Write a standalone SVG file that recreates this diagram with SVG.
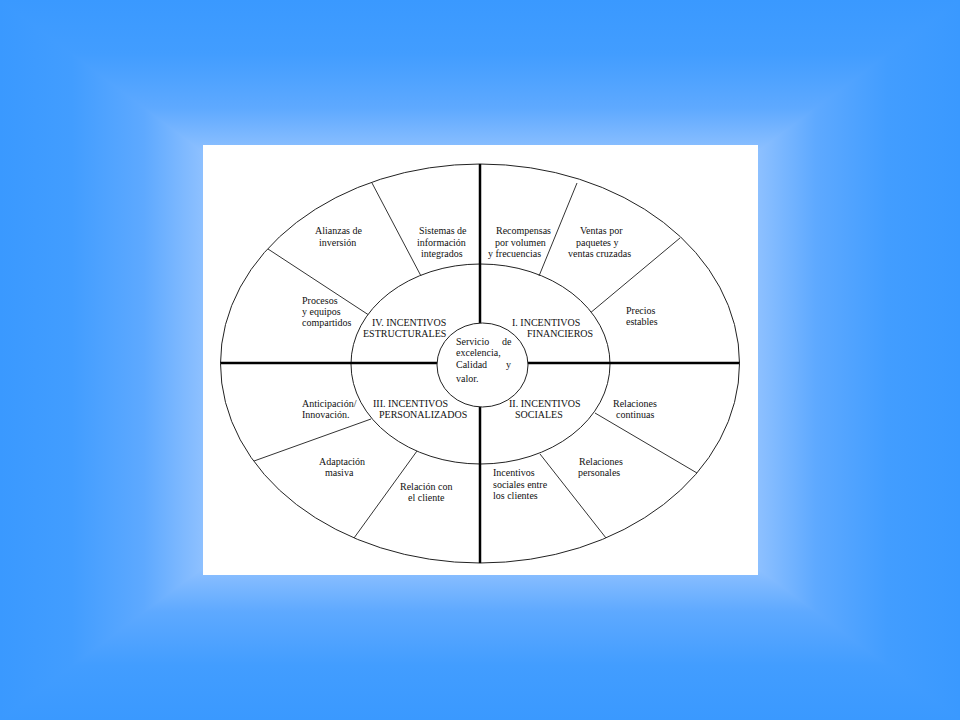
<svg xmlns="http://www.w3.org/2000/svg" width="960" height="720" viewBox="0 0 960 720">
<defs>
<linearGradient id="gT" gradientUnits="userSpaceOnUse" x1="0" y1="0" x2="0" y2="360">
<stop offset="0" stop-color="#3a99ff"/><stop offset="0.15" stop-color="#429dff"/><stop offset="0.3" stop-color="#5ea9ff"/><stop offset="0.42" stop-color="#8dc0ff"/><stop offset="1" stop-color="#c6e0ff"/>
</linearGradient>
<linearGradient id="gB" gradientUnits="userSpaceOnUse" x1="0" y1="720" x2="0" y2="360">
<stop offset="0" stop-color="#3a99ff"/><stop offset="0.15" stop-color="#429dff"/><stop offset="0.3" stop-color="#5ea9ff"/><stop offset="0.42" stop-color="#8dc0ff"/><stop offset="1" stop-color="#c6e0ff"/>
</linearGradient>
<linearGradient id="gL" gradientUnits="userSpaceOnUse" x1="0" y1="0" x2="480" y2="0">
<stop offset="0" stop-color="#3a99ff"/><stop offset="0.15" stop-color="#429dff"/><stop offset="0.3" stop-color="#5ea9ff"/><stop offset="0.42" stop-color="#8dc0ff"/><stop offset="1" stop-color="#c6e0ff"/>
</linearGradient>
<linearGradient id="gR" gradientUnits="userSpaceOnUse" x1="960" y1="0" x2="480" y2="0">
<stop offset="0" stop-color="#3a99ff"/><stop offset="0.15" stop-color="#429dff"/><stop offset="0.3" stop-color="#5ea9ff"/><stop offset="0.42" stop-color="#8dc0ff"/><stop offset="1" stop-color="#c6e0ff"/>
</linearGradient>
</defs>
<style>
text{font-family:"Liberation Serif","Times New Roman",serif;font-size:10px;fill:#111}
.ring{fill:none;stroke:#222;stroke-width:1}
.spoke{stroke:#333;stroke-width:1;fill:none}
.axis{stroke:#000;stroke-width:2.5;fill:none}
</style>
<g id="background">
<rect x="0" y="0" width="960" height="720" fill="#5ea9ff"/>
<polygon points="0,0 960,0 480,360" fill="url(#gT)" stroke="url(#gT)" stroke-width="1.5"/>
<polygon points="0,720 960,720 480,360" fill="url(#gB)" stroke="url(#gB)" stroke-width="1.5"/>
<polygon points="0,0 0,720 480,360" fill="url(#gL)" stroke="url(#gL)" stroke-width="1.5"/>
<polygon points="960,0 960,720 480,360" fill="url(#gR)" stroke="url(#gR)" stroke-width="1.5"/>
</g>
<rect id="frame" x="203" y="145" width="555" height="430" fill="#fff"/>
<g id="rings">
<ellipse class="ring" cx="480" cy="363.5" rx="259.5" ry="199.5"/>
<ellipse class="ring" cx="480.5" cy="364" rx="129.5" ry="100"/>
</g>
<g id="connectors">
<line class="axis" x1="480" y1="164" x2="480" y2="323"/>
<line class="axis" x1="480" y1="407" x2="480" y2="563"/>
<line class="axis" x1="220.5" y1="363" x2="437" y2="363"/>
<line class="axis" x1="528" y1="363" x2="739.5" y2="363"/>
<line class="spoke" x1="268" y1="249" x2="368" y2="314.5"/>
<line class="spoke" x1="372" y1="183" x2="421" y2="276"/>
<line class="spoke" x1="577" y1="183" x2="539" y2="276"/>
<line class="spoke" x1="680" y1="238" x2="591" y2="312.3"/>
<line class="spoke" x1="254" y1="461" x2="371" y2="419"/>
<line class="spoke" x1="417" y1="451" x2="354" y2="538"/>
<line class="spoke" x1="595" y1="413" x2="697" y2="473"/>
<line class="spoke" x1="540" y1="454" x2="606" y2="538"/>
</g>
<g id="center">
<ellipse cx="482.5" cy="365" rx="45.5" ry="42" fill="#fff" stroke="#222" stroke-width="1"/>
<text x="456" y="345">Servicio</text><text x="502" y="345">de</text>
<text x="456" y="356">excelencia,</text>
<text x="456" y="368">Calidad</text><text x="506" y="368">y</text>
<text x="456" y="382">valor.</text>
</g>
<g id="q4"><text x="372" y="326">IV. INCENTIVOS</text><text x="363" y="337">ESTRUCTURALES</text></g>
<g id="q1"><text x="512" y="326">I. INCENTIVOS</text><text x="527" y="337">FINANCIEROS</text></g>
<g id="q3"><text x="373" y="407">III. INCENTIVOS</text><text x="379" y="418">PERSONALIZADOS</text></g>
<g id="q2"><text x="509" y="407">II. INCENTIVOS</text><text x="515" y="418">SOCIALES</text></g>
<g id="alianzas"><text x="315" y="234">Alianzas de</text><text x="319" y="245.5">inversión</text></g>
<g id="sistemas"><text x="419" y="234">Sistemas de</text><text x="417" y="245.5">información</text><text x="421" y="257">integrados</text></g>
<g id="recompensas"><text x="496" y="234">Recompensas</text><text x="495" y="245.5">por volumen</text><text x="488" y="257">y frecuencias</text></g>
<g id="ventas"><text x="580" y="234">Ventas por</text><text x="576" y="245.5">paquetes y</text><text x="568" y="257">ventas cruzadas</text></g>
<g id="procesos"><text x="302" y="304">Procesos</text><text x="302" y="315">y equipos</text><text x="302" y="326">compartidos</text></g>
<g id="precios"><text x="626" y="314">Precios</text><text x="626" y="325">estables</text></g>
<g id="anticipacion"><text x="302" y="407">Anticipación/</text><text x="302" y="418">Innovación.</text></g>
<g id="rel-continuas"><text x="613" y="407">Relaciones</text><text x="616" y="418">continuas</text></g>
<g id="adaptacion"><text x="319" y="465">Adaptación</text><text x="325" y="476">masiva</text></g>
<g id="rel-cliente"><text x="400" y="490">Relación con</text><text x="408" y="500.5">el cliente</text></g>
<g id="rel-personales"><text x="579" y="465">Relaciones</text><text x="578" y="476">personales</text></g>
<g id="inc-sociales"><text x="493" y="476">Incentivos</text><text x="493" y="488">sociales entre</text><text x="493" y="499">los clientes</text></g>
</svg>
